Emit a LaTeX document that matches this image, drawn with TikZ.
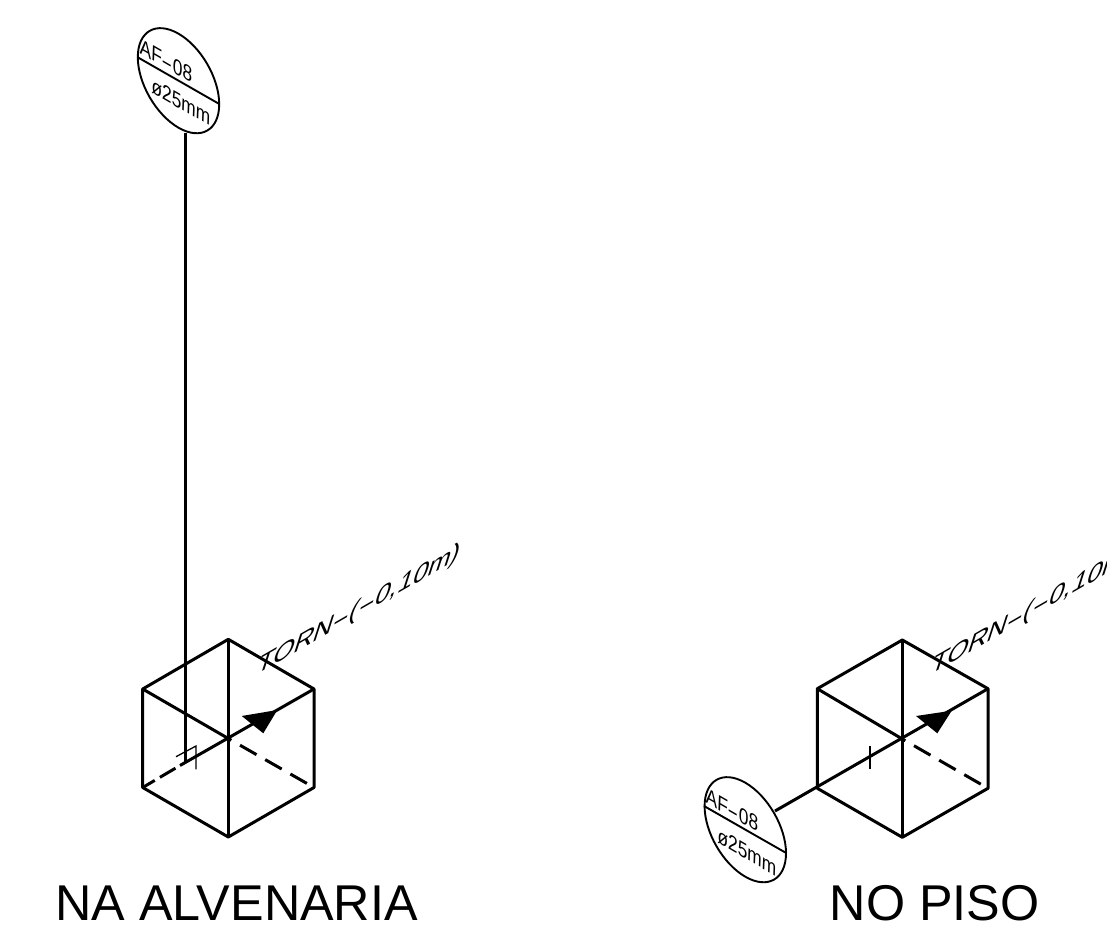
\documentclass[tikz,border=0pt]{standalone}
\usepackage{fontspec}
\usepackage{graphicx}
\setmainfont{Liberation Sans}
\newcommand{\wdash}{\scalebox{1.9}[1]{-}}
\tikzset{
  edge/.style={line width=3pt,line join=round},
  dashedge/.style={line width=3pt,dash pattern=on 19pt off 10pt,dash phase=15.5pt},
  lowdash/.style={line width=3pt,dash pattern=on 18pt off 6pt,dash phase=4pt},
  thin tick/.style={line width=1.3pt},
  bubble/.style={line width=1.9pt},
  head/.style={fill=black,draw=none},
  title/.style={inner sep=0pt,anchor=base,font=\fontsize{50.3pt}{50.3pt}\selectfont},
  tag/.style={inner sep=0pt,anchor=center,transform shape,font=\fontsize{20pt}{20pt}\selectfont},
  torn/.style={inner sep=0pt,anchor=base west,transform shape,font=\fontsize{24pt}{24pt}\selectfont},
}
\begin{document}
\begin{tikzpicture}[x=1pt,y=-1pt]
\useasboundingbox (0,0) rectangle (1107,925);
\clip (0,0) rectangle (1107,925);
% left cube
\coordinate (Lc) at (228.3,738.5);
\coordinate (Lt) at (228.3,639.3);
\coordinate (Lb) at (228.3,837);
\coordinate (Lul) at (142.7,689);
\coordinate (Lur) at (314,689);
\coordinate (Lll) at (142.7,787.5);
\coordinate (Llr) at (314,787.5);
\draw[edge] (Lul)--(Lt)--(Lur)--(Llr)--(Lb)--(Lll)--cycle;
\draw[edge] (Lt)--(Lb);
\draw[edge] (Lul)--(Lc);
\coordinate (Lj) at (185.5,762);
\coordinate (Ls) at (180,765.5);
\draw[edge] (Ls)--(Lur);
\draw[lowdash] (Lll)--(Ls);
\draw[dashedge] (Lc)--(Llr);
\coordinate (Ltop) at (185.5,133);
\draw[edge] (Ltop)--(Lj);
\coordinate (La) at (176,756.7);
\coordinate (Lm) at (196,746);
\coordinate (Ln) at (196,769.3);
\draw[thin tick] (La)--(Lm)--(Ln);
\fill[head] (277.3,710)--(241.7,716)--(263.3,733.3)--cycle;
\node[torn,cm={1.12,0.645,0.37,1.15,(255,676)}] (Ltorn) at (0,0) {TORN\wdash(\wdash0,10m)};
% left bubble
\coordinate (Be) at (178.5,80.7);
\draw[bubble,cm={0.866,-0.5,0,1,(Be)}] (0,0) circle (47pt);
\coordinate (Bd1) at (137.7,57.3);
\coordinate (Bd2) at (219.3,104);
\draw[bubble] (Bd1)--(Bd2);
\node[tag,cm={0.866,-0.5,0.04,1.08,(166,61)}] (Bt1) at (0,0) {AF\wdash08};
\node[tag,cm={0.866,-0.5,0.04,1.08,(181,102)}] (Bt2) at (0,0) {ø25mm};
\node[title] (Ltitle) at (236.5,920) {NA ALVENARIA};
% right cube
\coordinate (Rc) at (902.3,739);
\coordinate (Rt) at (902.3,640);
\coordinate (Rb) at (902.3,837.3);
\coordinate (Rul) at (817.3,688.7);
\coordinate (Rur) at (988,688.7);
\coordinate (Rll) at (817.3,788.3);
\coordinate (Rlr) at (988,788.3);
\draw[edge] (Rul)--(Rt)--(Rur)--(Rlr)--(Rb)--(Rll)--cycle;
\draw[edge] (Rt)--(Rb);
\draw[edge] (Rul)--(Rc);
\coordinate (Rend) at (775,811);
\draw[edge] (Rend)--(Rur);
\draw[dashedge] (Rc)--(Rlr);
\coordinate (Rm) at (870,746);
\coordinate (Rn) at (870,769);
\draw[thin tick] (Rm)--(Rn);
\fill[head] (951.7,710.7)--(916,716)--(937.3,733.3)--cycle;
\node[torn,cm={1.12,0.645,0.37,1.15,(929,676)}] (Rtorn) at (0,0) {TORN\wdash(\wdash0,10m)};
% right bubble
\coordinate (Ce) at (745.3,829.7);
\draw[bubble,cm={0.866,-0.5,0,1,(Ce)}] (0,0) circle (47pt);
\coordinate (Cd1) at (704,806);
\coordinate (Cd2) at (786.7,853.3);
\draw[bubble] (Cd1)--(Cd2);
\node[tag,cm={0.866,-0.5,0.04,1.08,(732,810)}] (Ct1) at (0,0) {AF\wdash08};
\node[tag,cm={0.866,-0.5,0.04,1.08,(747,852.3)}] (Ct2) at (0,0) {ø25mm};
\node[title] (Rtitle) at (934.5,920) {NO PISO};
\end{tikzpicture}
\end{document}
